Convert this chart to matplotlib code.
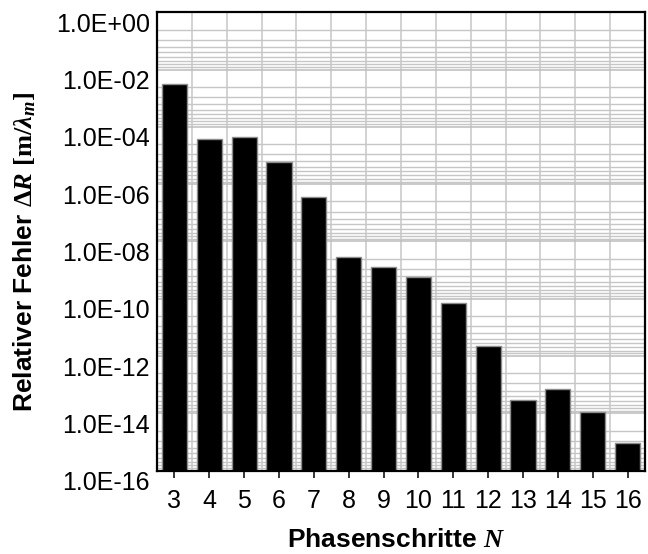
import numpy as np
import matplotlib
matplotlib.use("Agg")
import matplotlib.pyplot as plt
from matplotlib.ticker import FixedLocator, FuncFormatter, NullFormatter
from matplotlib.transforms import ScaledTranslation

plt.rcParams['font.family'] = ['Liberation Sans', 'DejaVu Sans']
plt.rcParams['mathtext.fontset'] = 'custom'
plt.rcParams['mathtext.rm'] = 'Liberation Serif:bold'
plt.rcParams['mathtext.it'] = 'Liberation Serif:bold:italic'
plt.rcParams['mathtext.bf'] = 'Liberation Serif:bold'

# relative error per number of phase steps
steps = [3, 4, 5, 6, 7, 8, 9, 10, 11, 12, 13, 14, 15, 16]
rel_error = [3.1e-3, 3.7e-5, 4.3e-5, 5.8e-6, 3.5e-7, 2.9e-9, 1.26e-9,
             5.9e-10, 7.1e-11, 2.2e-12, 2.9e-14, 6.9e-14, 1.15e-14, 7.9e-16]
y_labels_at = [1e0, 1e-2, 1e-4, 1e-6, 1e-8, 1e-10, 1e-12, 1e-14, 1e-16]

fig = plt.figure(figsize=(6.48, 5.54), dpi=100)
ax = fig.add_axes([157 / 648, 1 - 470.7 / 554, 488 / 648, 458.4 / 554])

x = np.arange(len(steps))
ax.bar(x, rel_error, width=0.72, bottom=1e-16, color='black',
       edgecolor='#8c8c8c', linewidth=1.0, zorder=3)

ax.set_yscale('log')
ax.set_ylim(1e-16, 1e0)
ax.set_xlim(-0.5, len(steps) - 0.5)

# major grid every two decades, minor lines in between
ax.yaxis.set_major_locator(FixedLocator(y_labels_at))
minor_y = [m / k ** 2 for m in y_labels_at[:-1] for k in range(2, 10)]
ax.yaxis.set_minor_locator(FixedLocator(minor_y))
ax.yaxis.set_major_formatter(FuncFormatter(lambda v, pos: f"{v:.1E}"))
ax.yaxis.set_minor_formatter(NullFormatter())

ax.set_xticks(x)
ax.set_xticklabels([str(s) for s in steps])
ax.set_xticks(np.arange(len(steps) - 1) + 0.5, minor=True)

ax.grid(True, which='major', axis='y', color='#bcbcbc', linewidth=1.1, zorder=0)
ax.grid(True, which='minor', axis='y', color='#c6c6c6', linewidth=1.0, zorder=0)
ax.grid(True, which='minor', axis='x', color='#c6c6c6', linewidth=1.1, zorder=0)
ax.set_axisbelow(True)

ax.tick_params(axis='y', which='both', length=0, labelsize=18, pad=5)
ax.tick_params(axis='x', which='major', direction='out', length=5, width=1.1,
               labelsize=18, pad=8)
ax.tick_params(axis='x', which='minor', length=0)

# y tick labels sit slightly below their grid lines
shift = ScaledTranslation(0, -10 / 100, fig.dpi_scale_trans)
for lbl in ax.get_yticklabels():
    lbl.set_transform(lbl.get_transform() + shift)

for sp in ax.spines.values():
    sp.set_linewidth(1.6)
    sp.set_color('black')
    sp.set_zorder(4)

fig.text(396 / 648, 1 - 546.7 / 554, r"Phasenschritte $N$", ha='center',
         va='baseline', fontsize=19, fontweight='bold')
fig.text(25 / 648, 1 - 252 / 554,
         r"Relativer Fehler $\Delta R$ $[\mathrm{m}/\lambda_m]$",
         rotation=90, ha='center', va='center', fontsize=19, fontweight='bold')

fig.savefig("out.png", dpi=100)
